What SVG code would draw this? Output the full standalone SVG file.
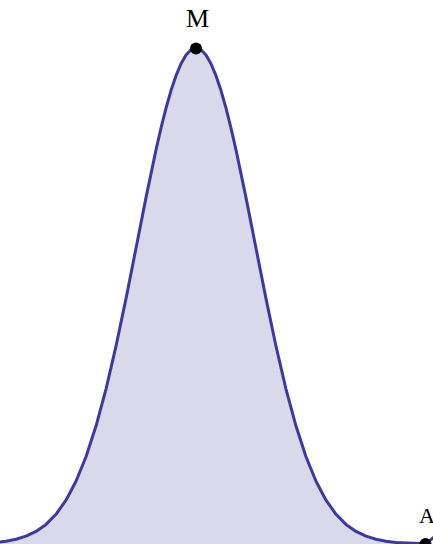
<svg xmlns="http://www.w3.org/2000/svg" width="433" height="544" viewBox="0 0 433 544">
<style>
.curve{fill:none;stroke:#3e3a9a;stroke-width:3;stroke-linejoin:round;stroke-linecap:round}
.area{fill:#d9d9eb;stroke:none}
.pt{fill:#000}
.lbl{font-family:"Liberation Serif","Times New Roman",serif;fill:#000}
</style>
<rect width="433" height="544" fill="#fff"/>
<g id="connectors">
<path class="area" d="M-34,543.75 L-4,542.41 L6,541.22 L16,539.28 L26,536.19 L36,531.45 L46,524.42 L56,514.29 L66,500.21 L76,481.3 L86,456.76 L96,426.06 L106,389.05 L116,346.19 L126,298.63 L136,248.25 L146,197.63 L156,149.83 L161,128.03 L166,108.14 L171,90.59 L176,75.69 L181,63.77 L186,55.07 L191,49.78 L196,48 L201,49.78 L206,55.07 L211,63.77 L216,75.69 L221,90.59 L226,108.14 L231,128.03 L236,149.83 L246,197.63 L256,248.25 L266,298.63 L276,346.19 L286,389.05 L296,426.06 L306,456.76 L316,481.3 L326,500.21 L336,514.29 L346,524.42 L356,531.45 L366,536.19 L376,539.28 L386,541.22 L396,542.41 L426,543.75 L426,560 L-34,560 Z"/>
<path class="curve" d="M-34,543.75 L-4,542.41 L6,541.22 L16,539.28 L26,536.19 L36,531.45 L46,524.42 L56,514.29 L66,500.21 L76,481.3 L86,456.76 L96,426.06 L106,389.05 L116,346.19 L126,298.63 L136,248.25 L146,197.63 L156,149.83 L161,128.03 L166,108.14 L171,90.59 L176,75.69 L181,63.77 L186,55.07 L191,49.78 L196,48 L201,49.78 L206,55.07 L211,63.77 L216,75.69 L221,90.59 L226,108.14 L231,128.03 L236,149.83 L246,197.63 L256,248.25 L266,298.63 L276,346.19 L286,389.05 L296,426.06 L306,456.76 L316,481.3 L326,500.21 L336,514.29 L346,524.42 L356,531.45 L366,536.19 L376,539.28 L386,541.22 L396,542.41 L426,543.75"/>
<path class="curve" d="M426,544 L434,537"/>
</g>
<g id="node-M">
<circle class="pt" cx="196" cy="48.5" r="6"/>
<text class="lbl" x="197.5" y="27" font-size="26" text-anchor="middle">M</text>
</g>
<g id="node-A">
<circle class="pt" cx="425.5" cy="544" r="6"/>
<text class="lbl" x="419" y="523" font-size="22">A</text>
</g>
</svg>
